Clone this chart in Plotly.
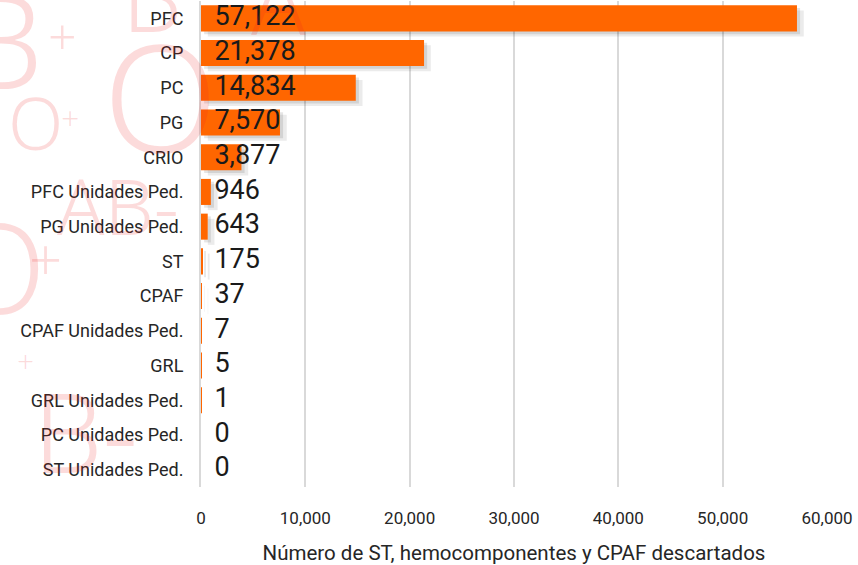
import plotly.graph_objects as go

categorias = ["PFC", "CP", "PC", "PG", "CRIO", "PFC Unidades Ped.", "PG Unidades Ped.",
              "ST", "CPAF", "CPAF Unidades Ped.", "GRL", "GRL Unidades Ped.",
              "PC Unidades Ped.", "ST Unidades Ped."]
descartados = [57122, 21378, 14834, 7570, 3877, 946, 643, 175, 37, 7, 5, 1, 0, 0]
ticks_x = [0, 10000, 20000, 30000, 40000, 50000, 60000]

FONT = "Roboto, sans-serif"
naranja = "#FF6600"

fig = go.Figure()

# sombra difusa de las barras (dos capas desplazadas a la derecha y abajo)
for base_s, off_s, alpha in [(300, 0.08, 0.10), (650, 0.15, 0.08)]:
    fig.add_trace(go.Bar(
        y=categorias, x=descartados, base=base_s, orientation="h",
        width=0.75, offset=-0.375 + off_s,
        marker=dict(color=f"rgba(0,0,0,{alpha})", line=dict(width=0)),
        hoverinfo="skip", showlegend=False,
    ))
fig.add_trace(go.Bar(
    y=categorias, x=descartados, orientation="h",
    width=0.75, offset=-0.375,
    marker=dict(color=naranja, line=dict(width=0)),
    showlegend=False,
))
# etiquetas de datos en la base de cada barra
fig.add_trace(go.Scatter(
    y=categorias, x=[0] * len(categorias), mode="text",
    text=["\u00a0\u00a0" + f"{v:,}" for v in descartados],
    textposition="middle right",
    textfont=dict(family=FONT, size=27, color="#1a1a1a"),
    hoverinfo="skip", showlegend=False, cliponaxis=False,
))

# marca de agua (grupos sanguineos) al fondo
L, W = 201, 626
H0, H = 1, 486
marcas = [
    ("B", 2, 38, 130), ("+", 62, 36, 50), ("O", 160, 95, 150),
    ("B", 152, -5, 95), ("A", 278, 0, 90),
    ("O", 35, 122, 72), ("+", 70, 118, 32),
    ("AB-", 118, 205, 78),
    ("O", -2, 265, 125), ("+", 45, 258, 58),
    ("+", 25, 360, 30),
    ("B-", 85, 430, 110),
]
for t, px, py, s in marcas:
    fig.add_annotation(
        text=t, xref="paper", yref="paper",
        x=(px - L) / W, y=1 - (py - H0) / H,
        xanchor="center", yanchor="middle", showarrow=False,
        font=dict(family="Noto Sans, sans-serif", size=s, weight=300,
                  color="rgba(235,30,30,0.16)"),
    )

fig.update_layout(
    width=858, height=565,
    margin=dict(l=201, r=31, t=1, b=78),
    paper_bgcolor="white", plot_bgcolor="rgba(0,0,0,0)",
    barmode="overlay", bargap=0.25,
    font=dict(family=FONT, color="#262626"),
)
fig.update_xaxes(
    range=[0, 60000], tickvals=ticks_x, tickformat=",", automargin=False,
    showgrid=True, gridcolor="#d9d9d9", gridwidth=2, zeroline=False,
    tickfont=dict(size=17, color="#262626"), ticklabelstandoff=19,
    title=dict(text="Número de ST, hemocomponentes y CPAF descartados",
               font=dict(size=20.5, color="#262626"), standoff=20),
)
fig.update_yaxes(
    range=[len(categorias) - 0.5, -0.5], showline=True, linecolor="#d9d9d9", linewidth=2,
    automargin=False,
    tickfont=dict(size=18, color="#262626"), ticklabelstandoff=12,
    showgrid=False,
)

fig.write_html("out.html", config={"displayModeBar": False},
               post_script="document.body.style.margin='0';")
